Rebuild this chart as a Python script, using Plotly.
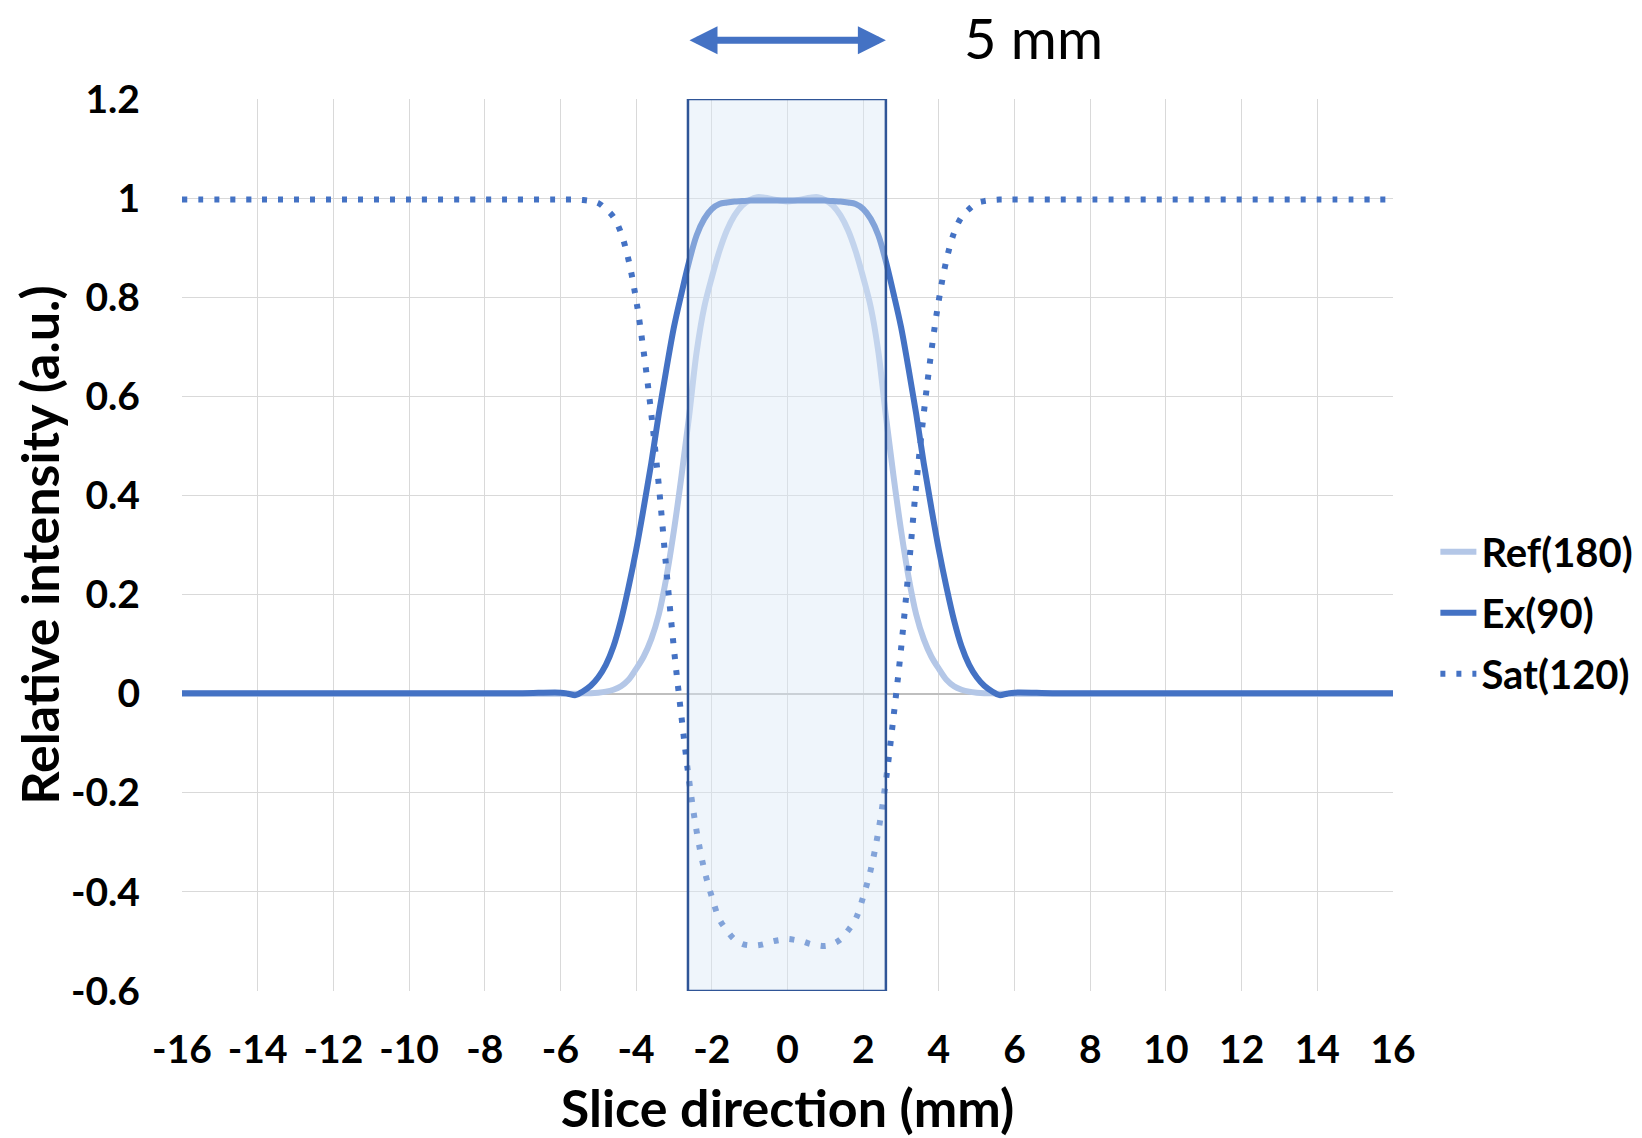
import plotly.graph_objects as go

# x positions (mm)
x_mm = [-16, -14, -12, -10, -8, -7, -6.0, -5.8, -5.6, -5.4, -5.2, -5.0, -4.8, -4.6, -4.4, -4.2,
        -4.0, -3.8, -3.6, -3.4, -3.2, -3.0, -2.8, -2.6, -2.4, -2.2, -2.0, -1.8, -1.6,
        -1.4, -1.2, -1.0, -0.8, -0.6, -0.4, -0.2, 0.0, 0.2, 0.4, 0.6, 0.8, 1.0, 1.2,
        1.4, 1.6, 1.8, 2.0, 2.2, 2.4, 2.6, 2.8, 3.0, 3.2, 3.4, 3.6, 3.8, 4.0, 4.2,
        4.4, 4.6, 4.8, 5.0, 5.2, 5.4, 5.6, 5.8, 6.0, 7, 8, 10, 12, 14, 16]

ref_180 = [0.0, 0.0, 0.0, 0.0, 0.0, 0.0, 0.0, 0.0, 0.0, 0.001, 0.001, 0.002, 0.004, 0.008, 0.015, 0.028,
           0.05, 0.075, 0.11, 0.16, 0.235, 0.33, 0.44, 0.56, 0.69, 0.78, 0.84, 0.893, 0.935,
           0.965, 0.985, 0.996, 1.002, 1.001, 0.998, 0.995, 0.993, 0.995, 0.998, 1.001, 1.002, 0.996, 0.985,
           0.965, 0.935, 0.893, 0.84, 0.78, 0.69, 0.56, 0.44, 0.33, 0.235, 0.16, 0.11, 0.075, 0.05, 0.028,
           0.015, 0.008, 0.004, 0.002, 0.001, 0.001, 0.0, 0.0, 0.0, 0.0, 0.0, 0.0, 0.0, 0.0, 0.0]

ex_90 = [0.001, 0.001, 0.001, 0.001, 0.001, 0.001, 0.002, 0.0, -0.003, 0.005, 0.016, 0.033, 0.058, 0.095, 0.148, 0.215,
         0.29, 0.375, 0.465, 0.565, 0.655, 0.74, 0.808, 0.872, 0.925, 0.958, 0.978, 0.988, 0.991,
         0.993, 0.994, 0.995, 0.995, 0.995, 0.995, 0.995, 0.995, 0.995, 0.995, 0.995, 0.995, 0.995, 0.994,
         0.993, 0.991, 0.988, 0.978, 0.958, 0.925, 0.872, 0.808, 0.74, 0.655, 0.565, 0.465, 0.375, 0.29, 0.215,
         0.148, 0.095, 0.058, 0.033, 0.016, 0.005, -0.003, 0.0, 0.002, 0.001, 0.001, 0.001, 0.001, 0.001, 0.001]

sat_120 = [0.997, 0.997, 0.997, 0.997, 0.997, 0.997, 0.997, 0.997, 0.997, 0.996, 0.994, 0.99, 0.978, 0.962, 0.93, 0.875,
           0.795, 0.69, 0.565, 0.42, 0.25, 0.09, -0.048, -0.175, -0.278, -0.355, -0.41, -0.455, -0.478,
           -0.496, -0.505, -0.508, -0.508, -0.505, -0.50, -0.497, -0.495, -0.497, -0.50, -0.505, -0.508, -0.509, -0.505,
           -0.496, -0.478, -0.455, -0.41, -0.355, -0.278, -0.175, -0.048, 0.09, 0.25, 0.42, 0.565, 0.69, 0.795, 0.875,
           0.93, 0.962, 0.978, 0.99, 0.994, 0.996, 0.997, 0.997, 0.997, 0.997, 0.997, 0.997, 0.997, 0.997, 0.997]

series_names = ["Ref(180)", "Ex(90)", "Sat(120)"]
x_ticks = list(range(-16, 17, 2))
y_ticks = [-0.6, -0.4, -0.2, 0, 0.2, 0.4, 0.6, 0.8, 1, 1.2]
y_tick_labels = ["-0.6", "-0.4", "-0.2", "0", "0.2", "0.4", "0.6", "0.8", "1", "1.2"]

FONT = "Lato"
fig = go.Figure()
fig.add_trace(go.Scatter(x=x_mm, y=ref_180, name=series_names[0], mode="lines",
                         line=dict(color="#B4C7E7", width=6, shape="spline"), legendgroup="a"))
fig.add_trace(go.Scatter(x=x_mm, y=ex_90, name=series_names[1], mode="lines",
                         line=dict(color="#4472C4", width=6, shape="spline"), legendgroup="b"))
fig.add_trace(go.Scatter(x=x_mm, y=sat_120, name=series_names[2], mode="lines",
                         line=dict(color="#4472C4", width=6, shape="spline", dash="5px,11px"),
                         legendgroup="c"))

# 5 mm slice window
fig.add_shape(type="rect", xref="x", yref="y", x0=-2.63, x1=2.6, y0=-0.6, y1=1.2,
              line=dict(color="#2F5597", width=2.5), fillcolor="rgba(218,230,245,0.42)",
              layer="above")

fig.add_annotation(x=2.6, y=1.066, xref="x", yref="paper", ax=-2.63, ay=0, axref="x", ayref="pixel",
                   showarrow=True, arrowhead=2, startarrowhead=2, arrowside="end+start",
                   arrowwidth=7, arrowsize=0.8, startarrowsize=0.8, arrowcolor="#4472C4",
                   standoff=0, startstandoff=0, text="")
fig.add_annotation(x=6.5, y=1.069, xref="x", yref="paper", text="5 mm", showarrow=False,
                   xanchor="center", yanchor="middle", borderpad=0,
                   font=dict(family=FONT, size=56, color="black"))

# page body has an 8px default margin; margins are compensated for it
fig.update_layout(
    width=1642, height=1138,
    margin=dict(l=174, r=251, t=91, b=155),
    paper_bgcolor="white", plot_bgcolor="white",
    font=dict(family=FONT, color="black"),
    showlegend=True,
    legend=dict(x=1.035, xanchor="left", y=0.424, yanchor="middle",
                font=dict(family=FONT, size=40, color="black", weight="bold"),
                tracegroupgap=6, traceorder="grouped", bgcolor="rgba(0,0,0,0)",
                itemwidth=36),
    xaxis=dict(range=[-16, 16], tickvals=x_ticks, ticktext=[str(v) for v in x_ticks],
               showgrid=True, gridcolor="#D9D9D9", gridwidth=1.3, zeroline=False,
               showline=False, ticks="", ticklabelstandoff=32, automargin=False,
               tickfont=dict(family=FONT, size=39, weight="bold"),
               title=dict(text="Slice direction (mm)", standoff=20,
                          font=dict(family=FONT, size=52, weight="bold"))),
    yaxis=dict(range=[-0.6, 1.2], tickvals=y_ticks, ticktext=y_tick_labels,
               showgrid=True, gridcolor="#D9D9D9", gridwidth=1.3, zeroline=True,
               zerolinecolor="#BFBFBF", zerolinewidth=1.8,
               showline=False, ticks="", ticklabelstandoff=41, automargin=False,
               tickfont=dict(family=FONT, size=39, weight="bold"),
               title=dict(text="Relative intensity (a.u.)", standoff=2,
                          font=dict(family=FONT, size=52, weight="bold"))),
)

fig.write_html("out.html")
